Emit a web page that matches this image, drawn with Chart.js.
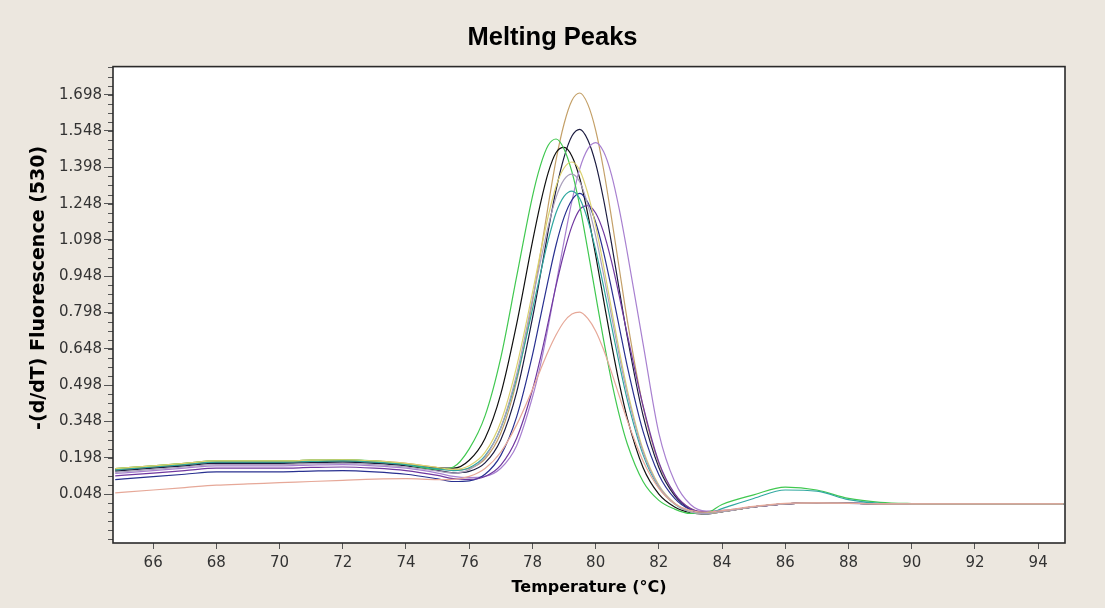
<!DOCTYPE html>
<html><head><meta charset="utf-8">
<script src="https://cdn.jsdelivr.net/npm/chart.js@4.4.0/dist/chart.umd.min.js"></script>
<style>html,body{margin:0;padding:0;background:#ece7df;overflow:hidden}</style>
</head><body>
<canvas id="c" width="1105" height="608"></canvas>
<script>
const temps = [64.8,66,67,68,69,70,71,72,73,74,75,75.5,76,76.5,77,77.5,78,78.25,78.5,78.75,79,79.25,79.5,79.75,80,80.25,80.5,80.75,81,81.5,82,82.5,83,83.5,84,85,86,87,88,89,90,91,92,93,94,94.8];

const gold = [0.153,0.165,0.175,0.185,0.185,0.185,0.188,0.19,0.185,0.175, 0.157,0.147,0.154,0.193,0.300,0.515, 0.842,1.038,1.241,1.430,1.577,1.674,1.705,1.659,1.552,1.390,1.191,0.978,0.767, 0.410,0.175,0.048,-0.011,-0.029,-0.024, -0.005,0.008,0.012,0.010,0.008,0.008,0.008,0.008,0.008,0.008,0.008];
const navy = [0.143,0.155,0.165,0.175,0.175,0.175,0.178,0.18,0.175,0.165, 0.146,0.136,0.142,0.177,0.273,0.468, 0.774,0.951,1.136,1.306,1.439,1.527,1.555,1.512,1.414,1.266,1.086,0.891,0.699, 0.373,0.158,0.042,-0.014,-0.029,-0.024, -0.005,0.008,0.012,0.010,0.008,0.007,0.006,0.006,0.006,0.006,0.006];
const lilac = [0.133,0.145,0.155,0.165,0.165,0.165,0.168,0.17,0.165,0.155, 0.135,0.121,0.116,0.121,0.155,0.248, 0.448,0.579,0.740,0.917,1.092,1.258,1.393,1.473,1.500,1.463,1.368,1.223,1.047, 0.670,0.300,0.100,0.005,-0.022,-0.019, -0.005,0.008,0.012,0.010,0.008,0.008,0.007,0.007,0.007,0.007,0.007];
const green = [0.153,0.165,0.175,0.185,0.185,0.185,0.188,0.19,0.185,0.17, 0.15,0.16,0.235,0.371,0.612,0.946, 1.277,1.404,1.489,1.515,1.474,1.379,1.237,1.058,0.871,0.686,0.517,0.373,0.256, 0.100,0.022,-0.014,-0.032,-0.030,0.005, 0.045,0.077,0.065,0.030,0.014,0.009,0.008,0.008,0.008,0.008,0.008];
const black = [0.148,0.16,0.17,0.18,0.18,0.18,0.183,0.185,0.18,0.17, 0.156,0.155,0.188,0.278,0.462,0.750, 1.090,1.246,1.376,1.459,1.480,1.444,1.351,1.206,1.035,0.851,0.670,0.504,0.362, 0.158,0.048,-0.005,-0.029,-0.034,-0.025, -0.005,0.008,0.012,0.010,0.008,0.008,0.008,0.008,0.008,0.008,0.008];
const lavender = [0.138,0.15,0.16,0.17,0.17,0.17,0.173,0.175,0.17,0.16, 0.143,0.135,0.149,0.201,0.323,0.543, 0.850,1.006,1.155,1.275,1.347,1.370,1.337,1.245,1.115,0.956,0.785,0.617,0.463, 0.223,0.081,0.009,-0.025,-0.033,-0.025, -0.005,0.008,0.012,0.010,0.008,0.008,0.008,0.008,0.008,0.008,0.008];
const darkBlue = [0.108,0.12,0.13,0.14,0.14,0.14,0.143,0.145,0.14,0.13, 0.111,0.100,0.103,0.130,0.208,0.367, 0.622,0.777,0.933,1.078,1.191,1.263,1.290,1.253,1.171,1.048,0.898,0.737,0.577, 0.307,0.128,0.030,-0.017,-0.030,-0.024, -0.005,0.008,0.012,0.010,0.008,0.006,0.005,0.005,0.005,0.005,0.005];
const purple = [0.123,0.135,0.145,0.155,0.155,0.155,0.158,0.16,0.155,0.145, 0.125,0.112,0.109,0.121,0.168,0.279, 0.478,0.609,0.758,0.910,1.045,1.155,1.224,1.240,1.209,1.130,1.010,0.865,0.708, 0.413,0.180,0.050,-0.012,-0.026,-0.023, -0.005,0.008,0.012,0.010,0.008,0.007,0.006,0.006,0.006,0.006,0.006];
const teal = [0.148,0.16,0.17,0.18,0.18,0.18,0.183,0.185,0.18,0.17, 0.152,0.145,0.157,0.206,0.321,0.528, 0.810,0.957,1.097,1.211,1.278,1.300,1.268,1.181,1.057,0.907,0.745,0.585,0.438, 0.211,0.076,0.007,-0.026,-0.033,-0.012, 0.030,0.065,0.060,0.025,0.010,0.008,0.008,0.008,0.008,0.008,0.008];
const yellow = [0.153,0.165,0.175,0.185,0.185,0.185,0.188,0.19,0.185,0.175, 0.158,0.150,0.165,0.220,0.347,0.575, 0.879,1.042,1.196,1.321,1.395,1.420,1.385,1.291,1.156,0.992,0.814,0.640,0.480, 0.232,0.085,0.010,-0.025,-0.032,-0.025, -0.005,0.008,0.012,0.010,0.008,0.008,0.008,0.008,0.008,0.008,0.008];
const salmon = [0.053,0.065,0.075,0.085,0.09,0.095,0.10,0.105,0.11,0.112, 0.108,0.109,0.121,0.154,0.222,0.334, 0.480,0.560,0.638,0.706,0.760,0.792,0.800,0.774,0.722,0.645,0.552,0.452,0.353, 0.185,0.072,0.008,-0.019,-0.027,-0.020, -0.003,0.010,0.012,0.010,0.008,0.008,0.008,0.008,0.008,0.008,0.008];

const xTicks = [66,68,70,72,74,76,78,80,82,84,86,88,90,92,94];
const yTicks = [0.048,0.198,0.348,0.498,0.648,0.798,0.948,1.098,1.248,1.398,1.548,1.698];
const yTitle = '-(d/dT) Fluorescence (530)';

const seriesList = [
  {data: salmon, color: '#e6a898'},
  {data: lavender, color: '#aaa0bc'},
  {data: yellow, color: '#dcd270'},
  {data: teal, color: '#30a8a0'},
  {data: green, color: '#40c850'},
  {data: purple, color: '#7038a0'},
  {data: darkBlue, color: '#283090'},
  {data: lilac, color: '#a880d0'},
  {data: black, color: '#101010'},
  {data: navy, color: '#1c1c40'},
  {data: gold, color: '#c4a068'}
];

const BG = '#ece7df';
const framePlugin = {
  id: 'frame',
  beforeDraw(chart) {
    const {ctx, width, height, chartArea: a} = chart;
    ctx.save();
    ctx.fillStyle = BG; ctx.fillRect(0, 0, width, height);
    ctx.fillStyle = '#ffffff'; ctx.fillRect(a.left, a.top, a.right - a.left, a.bottom - a.top);
    ctx.restore();
  },
  afterDraw(chart) {
    const {ctx, chartArea: a} = chart;
    const y = chart.scales.y;
    ctx.save();
    ctx.strokeStyle = '#555'; ctx.lineWidth = 1;
    const step = (yTicks[1] - yTicks[0]) / 4;
    for (let v = yTicks[0] - 8 * step; v <= y.max; v += step) {
      if (v < y.min) continue;
      const py = Math.round(y.getPixelForValue(v)) + 0.5;
      ctx.beginPath(); ctx.moveTo(a.left - 5, py); ctx.lineTo(a.left, py); ctx.stroke();
    }
    ctx.strokeStyle = '#2a2a2a'; ctx.lineWidth = 1.6;
    ctx.strokeRect(a.left, a.top, a.right - a.left, a.bottom - a.top);
    ctx.translate(39, y.getPixelForValue(0.9));
    ctx.rotate(-Math.PI / 2);
    ctx.fillStyle = '#000';
    ctx.font = 'bold 19px "DejaVu Sans"';
    ctx.textAlign = 'center'; ctx.textBaseline = 'middle';
    ctx.fillText(yTitle, 0, 0);
    ctx.restore();
  }
};

new Chart(document.getElementById('c'), {
  type: 'line',
  data: {
    labels: temps,
    datasets: seriesList.map(s => ({
      data: temps.map((t, i) => ({x: t, y: s.data[i]})),
      borderColor: s.color, borderWidth: 1.2, pointRadius: 0, fill: false,
      cubicInterpolationMode: 'monotone'
    }))
  },
  options: {
    responsive: false, animation: false, devicePixelRatio: 1,
    layout: {padding: 0},
    plugins: {
      legend: {display: false}, tooltip: {enabled: false},
      title: {display: true, text: 'Melting Peaks', color: '#000',
        font: {family: 'Liberation Sans', size: 25.5, weight: 'bold'}, padding: {top: 23, bottom: 13}}
    },
    scales: {
      x: {
        type: 'linear', min: 64.73, max: 94.85,
        afterBuildTicks: s => { s.ticks = xTicks.map(v => ({value: v})); },
        afterFit: s => { s.height = 65; },
        grid: {drawOnChartArea: false, drawTicks: true, tickLength: 6, color: '#555'},
        border: {display: false},
        ticks: {font: {family: 'DejaVu Sans', size: 15}, color: '#333', padding: 5, maxRotation: 0, autoSkip: false, callback: v => String(v)},
        title: {display: true, text: 'Temperature (°C)', color: '#000',
          font: {family: 'DejaVu Sans', size: 16, weight: 'bold'}, padding: {top: 0, bottom: 11}}
      },
      y: {
        min: -0.154, max: 1.814,
        afterBuildTicks: s => { s.ticks = yTicks.map(v => ({value: v})); },
        afterFit: s => { s.width = 113; },
        grid: {drawOnChartArea: false, drawTicks: true, tickLength: 9, color: '#555'},
        border: {display: false},
        ticks: {font: {family: 'DejaVu Sans', size: 15}, color: '#333', padding: 2, autoSkip: false, callback: v => Number(v).toFixed(3)},
        title: {display: false}
      },
      yRight: {
        position: 'right', min: 0, max: 1,
        afterFit: s => { s.width = 40; },
        grid: {display: false, drawTicks: false}, border: {display: false},
        ticks: {display: false}, title: {display: false}
      }
    }
  },
  plugins: [framePlugin]
});
</script>
</body></html>
